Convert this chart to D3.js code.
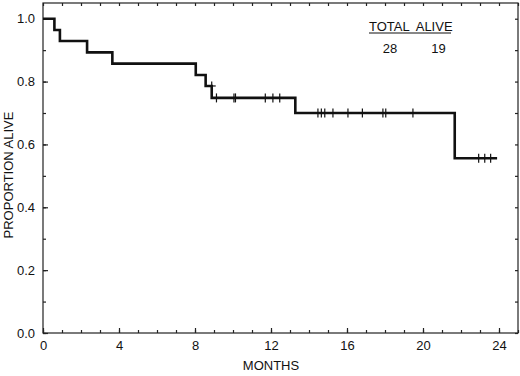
<!DOCTYPE html>
<html>
<head>
<meta charset="utf-8">
<script src="https://cdn.jsdelivr.net/npm/d3@7"></script>
<style>
  body { margin: 0; background: #fff; }
  svg text { font-family: "Liberation Sans", Arial, sans-serif; fill: #111; }
</style>
</head>
<body>
<div id="chart"></div>
<script>
// survival curve
var eventMonths = [0.6, 0.89, 2.32, 3.65, 8.04, 8.56, 8.88, 13.28, 21.67];
var survival = [1.0, 0.964, 0.929, 0.893, 0.857, 0.821, 0.786, 0.748, 0.70, 0.556];
var lastMonth = 23.9;
var censorMonths = [8.88, 9.13, 10.05, 10.13, 11.7, 12.1, 12.46,
                    14.47, 14.65, 14.83, 15.26, 16.05, 16.81, 17.89, 18.04, 19.47,
                    22.93, 23.25, 23.56];
var xTicks = [0, 4, 8, 12, 16, 20, 24];
var yTicks = [0, 0.2, 0.4, 0.6, 0.8, 1.0];
var legendHead = ["TOTAL", "ALIVE"];
var legendVals = ["28", "19"];

var margin = {top: 3, right: 2, bottom: 43, left: 43},
    width = 520 - margin.left - margin.right,
    height = 376 - margin.top - margin.bottom;

var x = d3.scaleLinear().domain([0, 25]).range([0, width]);
var y = d3.scaleLinear().domain([0, 1.05]).range([height, 0]);

var svg = d3.select("#chart").append("svg")
    .attr("width", 520)
    .attr("height", 376)
  .append("g")
    .attr("transform", "translate(" + margin.left + "," + margin.top + ")");

// frame
svg.append("rect")
    .attr("width", width)
    .attr("height", height)
    .attr("fill", "none")
    .attr("stroke", "#222")
    .attr("stroke-width", 1.2);

var minorX = d3.range(0, 26, 1);
var minorY = d3.range(0, 1.01, 0.1);

function styleAxis(g) {
  g.select(".domain").remove();
  g.selectAll("line").attr("stroke", "#222").attr("stroke-width", 1.2);
  g.selectAll("text").attr("font-size", 13).attr("fill", "#111");
}

// bottom axis
svg.append("g")
    .attr("transform", "translate(0," + height + ")")
    .call(d3.axisBottom(x).tickValues(xTicks).tickSize(-5).tickPadding(8).tickFormat(d3.format("d")))
    .call(styleAxis);
svg.append("g")
    .attr("transform", "translate(0," + height + ")")
    .call(d3.axisBottom(x).tickValues(minorX).tickSize(-3).tickFormat(""))
    .call(styleAxis);

// top axis
svg.append("g")
    .call(d3.axisTop(x).tickValues(minorX).tickSize(-3).tickFormat(""))
    .call(styleAxis);

// left axis
svg.append("g")
    .call(d3.axisLeft(y).tickValues(yTicks).tickSize(-5).tickPadding(8).tickFormat(d3.format(".1f")))
    .call(styleAxis);
svg.append("g")
    .call(d3.axisLeft(y).tickValues(minorY).tickSize(-3).tickFormat(""))
    .call(styleAxis);

// right axis
svg.append("g")
    .attr("transform", "translate(" + width + ",0)")
    .call(d3.axisRight(y).tickValues(minorY).tickSize(-3).tickFormat(""))
    .call(styleAxis);

// step curve
var pts = [[0, survival[0]]];
eventMonths.forEach(function(t, i) { pts.push([t, survival[i + 1]]); });
pts.push([lastMonth, survival[survival.length - 1]]);

var line = d3.line()
    .x(function(d) { return x(d[0]); })
    .y(function(d) { return y(d[1]); })
    .curve(d3.curveStepAfter);

svg.append("path")
    .datum(pts)
    .attr("d", line)
    .attr("fill", "none")
    .attr("stroke", "#111")
    .attr("stroke-width", 2.6)
    .attr("stroke-linejoin", "miter");

// censor marks
function levelAt(t) {
  return survival[d3.bisectLeft(eventMonths, t)];
}
var marks = svg.selectAll(".censor")
    .data(censorMonths)
  .enter().append("g")
    .attr("class", "censor")
    .attr("transform", function(d) { return "translate(" + x(d) + "," + y(levelAt(d)) + ")"; });
marks.append("line")
    .attr("y1", -4.5).attr("y2", 4.5)
    .attr("stroke", "#111").attr("stroke-width", 1.2);
marks.append("line")
    .attr("x1", -4).attr("x2", 4)
    .attr("stroke", "#111").attr("stroke-width", 1.2);

// axis titles
svg.append("text")
    .attr("x", 271 - margin.left)
    .attr("y", 370 - margin.top)
    .attr("text-anchor", "middle")
    .attr("font-size", 13)
    .text("MONTHS");

svg.append("text")
    .attr("transform", "translate(" + (12.5 - margin.left) + "," + (175 - margin.top) + ") rotate(-90)")
    .attr("text-anchor", "middle")
    .attr("font-size", 13)
    .text("PROPORTION ALIVE");

// legend
var legend = svg.append("g")
    .attr("transform", "translate(" + (369 - margin.left) + "," + (31 - margin.top) + ")");
legend.append("text")
    .attr("font-size", 13)
    .attr("xml:space", "preserve")
    .text(legendHead.join("  "));
legend.append("line")
    .attr("x1", 0).attr("x2", 82)
    .attr("y1", 2).attr("y2", 2)
    .attr("stroke", "#111").attr("stroke-width", 1.2);
legend.selectAll(".val")
    .data(legendVals)
  .enter().append("text")
    .attr("class", "val")
    .attr("x", function(d, i) { return i === 0 ? 21 : 69.5; })
    .attr("y", 22)
    .attr("text-anchor", "middle")
    .attr("font-size", 13)
    .text(function(d) { return d; });
</script>
</body>
</html>
